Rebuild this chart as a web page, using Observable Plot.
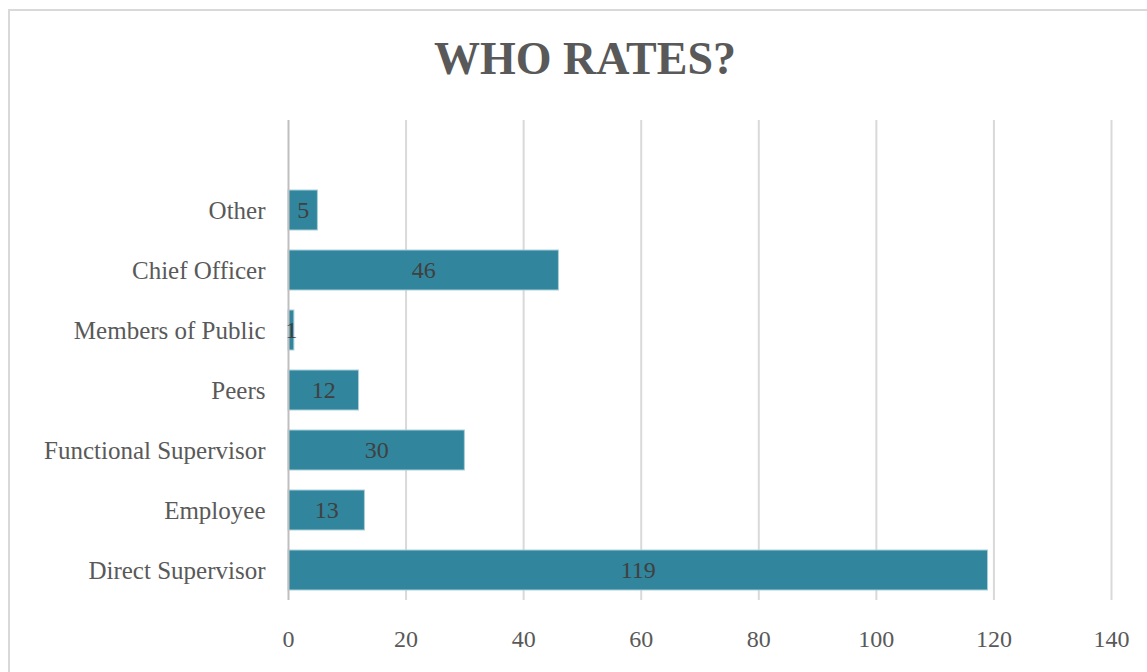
<!DOCTYPE html>
<html>
<head>
<meta charset="utf-8">
<script src="https://cdn.jsdelivr.net/npm/d3@7"></script>
<script src="https://cdn.jsdelivr.net/npm/@observablehq/plot@0.6"></script>
<style>
  html, body { margin: 0; padding: 0; background: #fff; width: 1147px; height: 672px; overflow: hidden; }
  #frame { position: absolute; left: 8px; top: 9px; width: 1200px; height: 700px; border: 2px solid #d9d9d9; box-sizing: border-box; }
  #title { position: absolute; left: 0; top: 36px; width: 1170px; text-align: center; font-family: "Liberation Serif", serif; font-weight: bold; font-size: 46px; line-height: 1; color: #595959; }
  #chart { position: absolute; left: 0; top: 0; }
</style>
</head>
<body>
<div id="frame"></div>
<div id="title">WHO RATES?</div>
<div id="chart"></div>
<script>
const categories = ["Other", "Chief Officer", "Members of Public", "Peers", "Functional Supervisor", "Employee", "Direct Supervisor"];
const values = [5, 46, 1, 12, 30, 13, 119];
const xTicks = [0, 20, 40, 60, 80, 100, 120, 140];

const data = categories.map((c, i) => ({category: c, value: values[i]}));

const chart = Plot.plot({
  width: 1147,
  height: 672,
  marginTop: 120,
  marginBottom: 72,
  marginLeft: 288,
  marginRight: 36,
  style: {fontFamily: "Liberation Serif, serif", fontSize: "24px", color: "#595959", background: "transparent", overflow: "visible"},
  x: {domain: [0, 140], ticks: xTicks, label: null},
  y: {domain: categories, range: [179, 600], paddingInner: 1/3, paddingOuter: 1/6, label: null},
  marks: [
    Plot.ruleX(xTicks.filter(d => d > 0), {stroke: "#d9d9d9", strokeWidth: 2}),
    Plot.barX(data, {x: "value", y: "category", fill: "#31859c", stroke: "#a9cfd9", strokeWidth: 1}),
    Plot.ruleX([0], {stroke: "#bfbfbf", strokeWidth: 2}),
    Plot.text(data, {x: d => d.value / 2, y: "category", text: d => String(d.value), fill: "#404040", fontSize: 24}),
    Plot.axisY({tickSize: 0, tickPadding: 23, fontSize: 25, fill: "#595959"}),
    Plot.axisX({tickSize: 0, tickPadding: 29, fontSize: 24, fill: "#595959", ticks: xTicks})
  ]
});
document.getElementById("chart").appendChild(chart);
</script>
</body>
</html>
